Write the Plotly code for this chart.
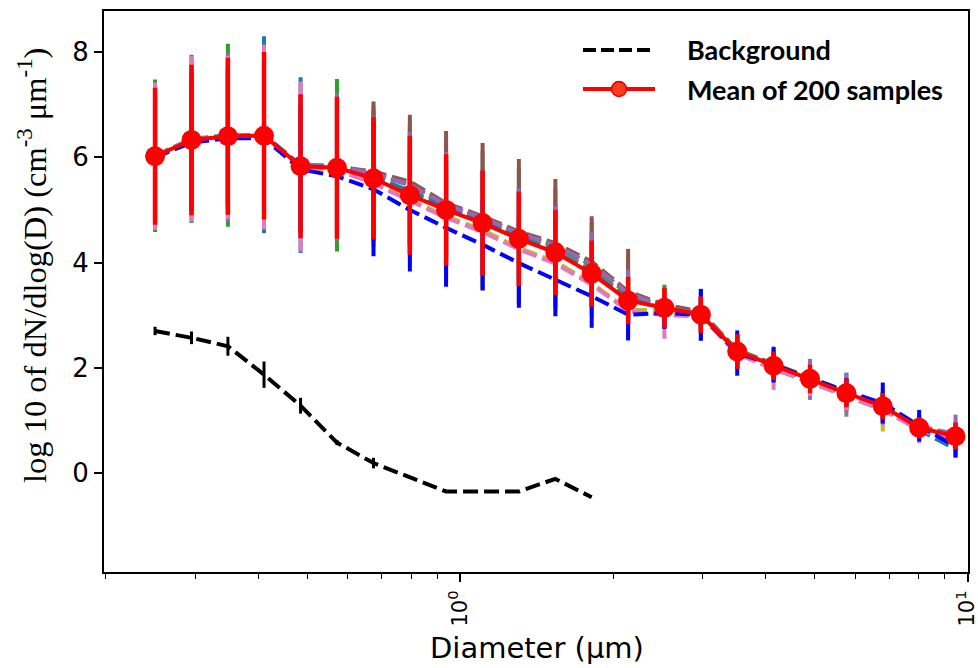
import plotly.graph_objects as go

# ---------------- data ----------------
diameter_um = [0.250, 0.295, 0.348, 0.410, 0.484, 0.571, 0.674, 0.795, 0.937, 1.106, 1.304,
               1.539, 1.815, 2.141, 2.525, 2.979, 3.514, 4.145, 4.890, 5.768, 6.804, 8.026, 9.467]

mean_avg = [6.02, 6.33, 6.40, 6.41, 5.83, 5.80, 5.60, 5.28, 5.00, 4.75, 4.45, 4.19, 3.79, 3.28,
            3.14, 3.01, 2.31, 2.04, 1.79, 1.52, 1.27, 0.86, 0.70]
std_avg = [1.30, 1.43, 1.49, 1.59, 1.37, 1.35, 1.16, 1.13, 1.06, 1.00, 0.90, 0.81, 0.63, 0.45,
           0.38, 0.35, 0.33, 0.27, 0.27, 0.27, 0.25, 0.20, 0.26]

brown_mean = [6.02, 6.33, 6.40, 6.41, 5.85, 5.82, 5.73, 5.54, 5.13, 4.88, 4.59, 4.37, 4.02, 3.45,
              3.20, 3.07, 2.33, 2.06, 1.80, 1.52, 1.27, 0.86, 0.65]
brown_std = [1.2, 1.3, 1.3, 1.4, 1.2, 1.2, 1.33, 1.27, 1.37, 1.39, 1.38, 1.22, 0.86, 0.81,
             0.3, 0.3, 0.3, 0.25, 0.25, 0.25, 0.2, 0.15, 0.2]

green_mean = [6.03, 6.35, 6.42, 6.41, 5.85, 5.85, 5.68, 5.47, 5.07, 4.82, 4.53, 4.31, 3.95, 3.40,
              3.16, 3.04, 2.34, 2.08, 1.83, 1.55, 1.29, 0.90, 0.72]
green_std = [1.45, 1.60, 1.74, 1.50, 1.30, 1.64, 1.20, 1.10, 1.00, 0.95, 0.90, 0.80, 0.60, 0.50,
             0.42, 0.30, 0.30, 0.25, 0.25, 0.25, 0.25, 0.20, 0.25]

tabblue_mean = [6.02, 6.33, 6.40, 6.43, 5.85, 5.80, 5.62, 5.35, 5.04, 4.78, 4.48, 4.20, 3.82, 3.30,
                3.12, 3.00, 2.30, 2.02, 1.76, 1.48, 1.22, 0.82, 0.45]
tabblue_std = [1.2, 1.3, 1.4, 1.87, 1.67, 1.2, 1.0, 1.0, 0.9, 0.9, 0.8, 0.7, 0.55, 0.4,
               0.3, 0.49, 0.3, 0.25, 0.25, 0.25, 0.25, 0.2, 0.16]

gray_mean = [6.02, 6.33, 6.40, 6.41, 5.85, 5.82, 5.64, 5.36, 5.04, 4.79, 4.50, 4.25, 3.87, 3.34,
             3.16, 3.04, 2.30, 2.03, 1.77, 1.49, 1.24, 0.84, 0.65]
gray_std = [1.2, 1.3, 1.3, 1.4, 1.2, 1.40, 1.34, 1.30, 1.34, 1.33, 1.29, 1.16, 0.90, 0.80,
            0.30, 0.30, 0.30, 0.30, 0.38, 0.42, 0.30, 0.20, 0.30]

purple_mean = [6.00, 6.30, 6.38, 6.39, 5.84, 5.82, 5.70, 5.48, 5.10, 4.85, 4.56, 4.33, 3.97, 3.42,
               3.16, 3.02, 2.32, 2.06, 1.81, 1.53, 1.28, 0.88, 0.75]
purple_std = [1.2, 1.3, 1.6, 1.45, 1.25, 1.40, 1.0, 1.0, 1.0, 0.9, 0.85, 0.75, 0.6, 0.45,
              0.3, 0.3, 0.3, 0.28, 0.36, 0.37, 0.25, 0.2, 0.36]

olive_mean = [6.00, 6.30, 6.38, 6.38, 5.80, 5.76, 5.52, 5.20, 4.88, 4.62, 4.28, 4.02, 3.61, 3.10,
              3.10, 2.98, 2.28, 1.98, 1.72, 1.45, 1.20, 0.82, 0.62]
olive_std = [1.2, 1.3, 1.3, 1.4, 1.2, 1.1, 1.0, 0.9, 0.85, 0.8, 0.7, 0.6, 0.45, 0.35,
             0.3, 0.3, 0.3, 0.25, 0.25, 0.25, 0.41, 0.2, 0.25]

pink_mean = [6.02, 6.35, 6.38, 6.385, 5.825, 5.76, 5.50, 5.18, 4.85, 4.58, 4.25, 3.98, 3.58, 3.08,
             3.00, 2.98, 2.26, 1.98, 1.72, 1.45, 1.20, 0.82, 0.62]
pink_std = [1.40, 1.57, 1.55, 1.755, 1.615, 1.2, 1.0, 0.9, 0.85, 0.8, 0.7, 0.6, 0.45, 0.35,
            0.45, 0.3, 0.3, 0.40, 0.25, 0.25, 0.3, 0.25, 0.25]

blue_mean = [6.00, 6.28, 6.36, 6.36, 5.77, 5.64, 5.39, 5.00, 4.66, 4.34, 3.99, 3.67, 3.36, 3.01,
             3.04, 3.01, 2.28, 2.06, 1.80, 1.55, 1.33, 0.90, 0.50]
blue_std = [1.2, 1.3, 1.3, 1.4, 1.2, 1.1, 1.27, 1.17, 1.12, 0.86, 0.85, 0.69, 0.60, 0.49,
            0.30, 0.49, 0.43, 0.34, 0.25, 0.25, 0.39, 0.30, 0.20]

bg_diameter = diameter_um[:13]
bg_mean = [2.70, 2.57, 2.41, 1.87, 1.28, 0.58, 0.19, -0.09, -0.35, -0.35, -0.35, -0.11, -0.46]
bg_std = [0.08, 0.12, 0.18, 0.25, 0.15, 0.05, 0.10, 0, 0, 0, 0, 0, 0]

samples = [
    ("#7f7f7f", gray_mean, gray_std),
    ("#2ca02c", green_mean, green_std),
    ("#8c564b", brown_mean, brown_std),
    ("#1f77b4", tabblue_mean, tabblue_std),
    ("#9467bd", purple_mean, purple_std),
    ("#bcbd22", olive_mean, olive_std),
    ("#e377c2", pink_mean, pink_std),
    ("#0000ff", blue_mean, blue_std),
]

x_tickvals = [1, 10]
x_ticktext = ["10<sup>0</sup>", "10<sup>1</sup>"]
x_minor = [0.2, 0.3, 0.4, 0.5, 0.6, 0.7, 0.8, 0.9, 2, 3, 4, 5, 6, 7, 8, 9]
y_tickvals = [0, 2, 4, 6, 8]

# ---------------- figure ----------------
fig = go.Figure()
DASH = "15px,6px"

for color, m, s in samples:
    fig.add_trace(go.Scatter(
        x=diameter_um, y=m, mode="lines",
        line=dict(color=color, width=4, dash=DASH),
        error_y=dict(type="data", array=s, visible=True, color=color, thickness=4, width=0),
        showlegend=False, hoverinfo="skip"))

fig.add_trace(go.Scatter(
    x=bg_diameter, y=bg_mean, mode="lines",
    line=dict(color="black", width=4, dash=DASH),
    error_y=dict(type="data", array=bg_std, visible=True, color="black", thickness=3, width=0),
    name="Background", showlegend=False))

fig.add_trace(go.Scatter(
    x=diameter_um, y=mean_avg, mode="lines+markers",
    line=dict(color="red", width=4),
    marker=dict(color="red", size=20),
    error_y=dict(type="data", array=std_avg, visible=True, color="red", thickness=4.5, width=0),
    name="Mean of 200 samples", showlegend=False))

L, R, T, B = 104, 10, 11, 96
W, H = 978, 668
pw, ph = W - L - R, H - T - B


def px(xp):
    return (xp - L) / pw


def py(yp):
    return (H - B - yp) / ph


# manual legend
fig.add_shape(type="line", xref="paper", yref="paper", x0=px(583), x1=px(655), y0=py(50), y1=py(50),
              line=dict(color="black", width=4, dash="13px,5px"))
fig.add_shape(type="line", xref="paper", yref="paper", x0=px(583), x1=px(655), y0=py(89), y1=py(89),
              line=dict(color="red", width=4))
fig.add_shape(type="circle", xref="paper", yref="paper", xsizemode="pixel", ysizemode="pixel",
              xanchor=px(619), yanchor=py(89), x0=-7.5, x1=7.5, y0=-7.5, y1=7.5,
              fillcolor="#ff3b1f", line=dict(color="#e00000", width=1.5))
legend_font = dict(family="Lato", size=27, color="black")
fig.add_annotation(xref="paper", yref="paper", x=px(685), y=py(50), xanchor="left", yanchor="middle",
                   text="<b>Background</b>", showarrow=False, font=legend_font)
fig.add_annotation(xref="paper", yref="paper", x=px(685), y=py(89), xanchor="left", yanchor="middle",
                   text="<b>Mean of 200 samples</b>", showarrow=False, font=legend_font)

# axis titles
fig.add_annotation(xref="paper", yref="paper", x=px(32), y=py(266), xanchor="center", yanchor="middle",
                   textangle=-90, showarrow=False,
                   text="log 10 of dN/dlog(D) (cm<sup>-3</sup> μm<sup>-1</sup>)",
                   font=dict(family="Liberation Serif", size=32.5, color="black"))
fig.add_annotation(xref="paper", yref="paper", x=px(537), y=py(648), xanchor="center", yanchor="middle",
                   showarrow=False, text="Diameter (μm)",
                   font=dict(family="DejaVu Sans", size=29, color="black"))

fig.update_layout(
    width=W, height=H,
    margin=dict(l=L, r=R, t=T, b=B, autoexpand=False),
    paper_bgcolor="white", plot_bgcolor="white",
    showlegend=False,
    font=dict(family="DejaVu Sans", color="black"),
    xaxis=dict(type="log", range=[-0.7027, 1.0008], automargin=False,
               tickmode="array", tickvals=x_tickvals, ticktext=x_ticktext, tickangle=-90,
               ticklabeloverflow="allow",
               ticks="outside", ticklen=8, tickwidth=1.5, tickcolor="black",
               tickfont=dict(family="DejaVu Sans", size=21, color="black"),
               minor=dict(tickmode="array", tickvals=x_minor, ticks="outside", ticklen=5,
                          tickwidth=1.2, tickcolor="black", showgrid=False),
               showline=True, linecolor="black", linewidth=2, mirror=True,
               showgrid=False, zeroline=False),
    yaxis=dict(range=[-1.88, 8.78], tickmode="array", tickvals=y_tickvals, automargin=False,
               ticks="outside", ticklen=8, tickwidth=1.5, tickcolor="black",
               tickfont=dict(family="DejaVu Sans", size=26, color="black"),
               showline=True, linecolor="black", linewidth=2, mirror=True,
               showgrid=False, zeroline=False),
)

fig.write_html("out.html")
